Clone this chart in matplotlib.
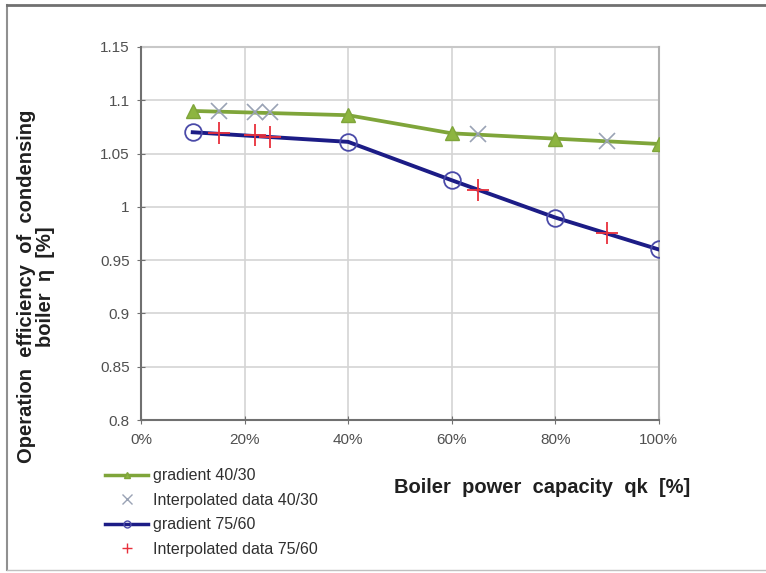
import matplotlib
matplotlib.use("Agg")
import matplotlib.pyplot as plt
from matplotlib.lines import Line2D
from matplotlib.ticker import FuncFormatter

plt.rcParams['font.family'] = ['Liberation Sans', 'DejaVu Sans']

# Data (x in %, y = efficiency)
x_4030 = [10, 40, 60, 80, 100]
y_4030 = [1.090, 1.086, 1.069, 1.064, 1.059]
x_int_4030 = [15, 22, 25, 65, 90]
y_int_4030 = [1.090, 1.089, 1.089, 1.068, 1.062]

x_7560 = [10, 40, 60, 80, 100]
y_7560 = [1.070, 1.061, 1.025, 0.990, 0.960]
x_int_7560 = [15, 22, 25, 65, 90]
y_int_7560 = [1.069, 1.067, 1.066, 1.016, 0.975]

xticks = [0, 20, 40, 60, 80, 100]
yticks = [0.8, 0.85, 0.9, 0.95, 1.0, 1.05, 1.1, 1.15]
ytick_labels = ['0.8', '0.85', '0.9', '0.95', '1', '1.05', '1.1', '1.15']

legend_labels = ['gradient 40/30', 'Interpolated data 40/30',
                 'gradient 75/60', 'Interpolated data 75/60']

green = '#7FA53A'
navy = '#1C1C86'
xgray = '#9AA3B5'
red = '#E8303C'

fig = plt.figure(figsize=(7.66, 5.73), dpi=100)
ax = fig.add_axes([0.184, 0.267, 0.676, 0.651])

ax.plot(x_4030, y_4030, color=green, lw=2.7, marker='^', ms=10,
        markerfacecolor='#8DB540', markeredgecolor=green, zorder=3)
ax.plot(x_int_4030, y_int_4030, ls='none', marker='x', ms=11, mew=1.2,
        color=xgray, zorder=4)
ax.plot(x_7560, y_7560, color=navy, lw=2.8, marker='o', ms=12,
        markerfacecolor='none', markeredgecolor='#4A4AA8', mew=1.3, zorder=3)
ax.plot(x_int_7560, y_int_7560, ls='none', marker='+', ms=16, mew=1.3,
        color=red, zorder=5)

ax.set_xlim(0, 100)
ax.set_ylim(0.8, 1.15)
ax.set_xticks(xticks)
ax.xaxis.set_major_formatter(FuncFormatter(lambda v, p: f'{int(v)}%'))
ax.set_yticks(yticks)
ax.set_yticklabels(ytick_labels)
ax.grid(True, color='#D4D4D4', lw=1.2)
ax.set_axisbelow(True)
for s in ['top', 'right']:
    ax.spines[s].set_visible(False)
for s in ['left', 'bottom']:
    ax.spines[s].set_color('#707070')
    ax.spines[s].set_linewidth(1.5)
ax.tick_params(axis='both', direction='inout', length=6, color='#707070',
               labelsize=11, labelcolor='#505050')
ax.tick_params(axis='x', pad=6)
ax.tick_params(axis='y', pad=5)

# gridline closing at top and right
ax.axhline(1.15, color='#C8C8C8', lw=1.5, clip_on=False)
ax.axvline(100, color='#B0B0B0', lw=1.5, clip_on=False)

fig.text(0.047, 0.500, 'Operation  efficiency  of  condensing\nboiler  η  [%]',
         rotation=90, ha='center', va='center', fontsize=14.5,
         fontweight='bold', color='#202020', multialignment='center',
         linespacing=1.05)
fig.text(0.708, 0.150, 'Boiler  power  capacity  qk  [%]', ha='center',
         va='center', fontsize=14.5, fontweight='bold', color='#202020')

handles = [
    Line2D([], [], color=green, lw=2.5, marker='^', ms=5,
           markerfacecolor='#8DB540'),
    Line2D([], [], ls='none', marker='x', ms=7, color=xgray),
    Line2D([], [], color=navy, lw=2.5, marker='o', ms=5,
           markerfacecolor='none', markeredgecolor='#4A4AA8'),
    Line2D([], [], ls='none', marker='+', ms=7, color=red),
]
leg = fig.legend(handles, legend_labels, loc='upper left',
                 bbox_to_anchor=(0.137, 0.183), frameon=False, fontsize=11.5,
                 handlelength=2.7, handletextpad=0.3, labelspacing=0.6,
                 borderaxespad=0, borderpad=0)
for t in leg.get_texts():
    t.set_color('#303030')

# outer image frame
fig.add_artist(Line2D([0.009, 0.009], [0.006, 0.992], color='#909090', lw=1.5,
                      transform=fig.transFigure))
fig.add_artist(Line2D([0.009, 1.0], [0.991, 0.991], color='#707070', lw=2,
                      transform=fig.transFigure))
fig.add_artist(Line2D([0.009, 1.0], [0.006, 0.006], color='#C0C0C0', lw=1,
                      transform=fig.transFigure))

fig.savefig('out.png', dpi=100)
